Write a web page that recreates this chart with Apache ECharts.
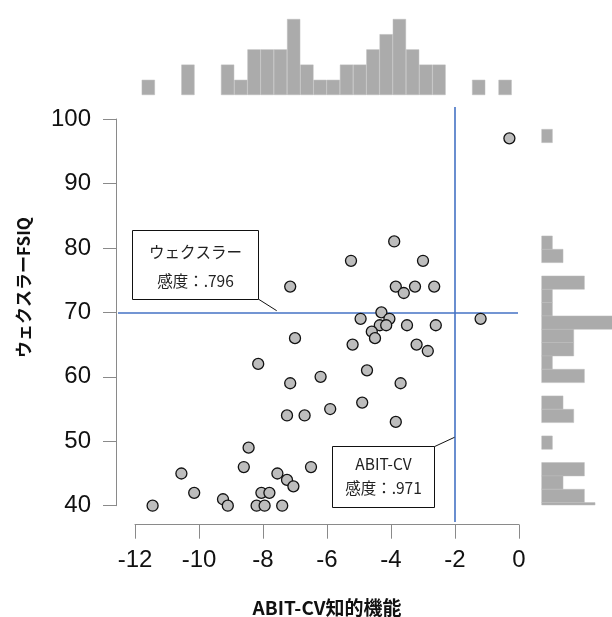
<!DOCTYPE html>
<html>
<head>
<meta charset="utf-8">
<script src="https://cdn.jsdelivr.net/npm/echarts@6/dist/echarts.min.js"></script>
<style>html,body{margin:0;padding:0;background:#fff;}#c{width:612px;height:617px;}</style>
</head>
<body>
<div id="c"></div>
<script>
// ---- data ----
const xTicks = [-12, -10, -8, -6, -4, -2, 0];
const yTicks = [40, 50, 60, 70, 80, 90, 100];
const xVals = [-0.3, -3.9, -5.25, -3.0, -3.85, -3.6, -3.25, -2.65, -7.15, -4.3,
  -4.95, -4.05, -1.2, -4.35, -4.15, -3.5, -2.6, -4.6, -4.5, -7.0,
  -5.2, -3.2, -2.85, -8.15, -4.75, -6.2, -7.15, -3.7, -4.9, -5.9,
  -7.25, -6.7, -3.85, -8.45, -8.6, -6.5, -10.55, -7.55, -7.25, -7.05,
  -10.15, -8.05, -7.8, -9.25, -11.45, -9.1, -8.2, -7.95, -7.4];
const yVals = [97, 81, 78, 78, 74, 73, 74, 74, 74, 70,
  69, 69, 69, 68, 68, 68, 68, 67, 66, 66,
  65, 65, 64, 62, 61, 60, 59, 59, 56, 55,
  54, 54, 53, 49, 46, 46, 45, 45, 44, 43,
  42, 42, 42, 41, 40, 40, 40, 40, 40];
const refX = -2;
const refY = 70;
const topHistCounts = [1,0,0,2,0,0,2,1,3,3,3,5,2,1,1,2,2,3,4,5,3,2,2,0,0,1,0,1];
const rightHistCounts = [1,0,0,0,0,0,0,0,1,2,0,4,1,1,7,3,3,1,4,0,2,3,0,1,0,4,2,4,5];
const xTitle = 'ABIT-CV知的機能';
const yTitle = 'ウェクスラーFSIQ';
const note1 = ['ウェクスラー', '感度：.796'];
const note2 = ['ABIT-CV', '感度：.971'];

// ---- layout ----
const chart = echarts.init(document.getElementById('c'), null, {renderer: 'canvas'});
const axisGray = '#8a8a8a';
const histGray = '#ababab';
const histEdge = '#bdbdbd';
const blue = '#4472c4';
const tickFont = {fontFamily: 'Liberation Sans', fontSize: 24, color: '#111'};
const titleFont = {fontFamily: 'Noto Sans CJK JP', fontSize: 19, fontWeight: 'bold', color: '#111'};
const noteFont = 'Noto Sans CJK JP';

// plot region in data units (for reference lines)
const plotX = [-12.53, -0.03];
const plotY = [37.47, 101.86];

const pts = xVals.map((x, i) => [x, yVals[i]]);

const option = {
  animation: false,
  backgroundColor: '#fff',
  grid: [
    {left: 135, top: 119, width: 384, height: 386.7, outerBoundsMode: 'none', containLabel: false},     // axes
    {left: 118, top: 107, width: 400, height: 415, outerBoundsMode: 'none', containLabel: false},       // plot region
    {left: 141.7, top: 19, width: 370, height: 76, outerBoundsMode: 'none', containLabel: false},       // top hist
    {left: 541.7, top: 129.3, width: 74.7, height: 375.7, outerBoundsMode: 'none', containLabel: false} // right hist
  ],
  xAxis: [
    {gridIndex: 0, type: 'value', min: xTicks[0], max: xTicks[xTicks.length - 1], interval: 2,
     offset: 19, position: 'bottom',
     axisLine: {show: true, onZero: false, lineStyle: {color: axisGray, width: 1}},
     axisTick: {show: true, length: 14, lineStyle: {color: axisGray, width: 1}},
     axisLabel: Object.assign({margin: 24}, tickFont),
     splitLine: {show: false},
     name: xTitle, nameLocation: 'middle', nameGap: 74, nameTextStyle: titleFont},
    {gridIndex: 1, type: 'value', min: plotX[0], max: plotX[1], show: false},
    {gridIndex: 2, type: 'category', data: topHistCounts.map((_, i) => i), show: false},
    {gridIndex: 3, type: 'value', min: 0, max: 7, show: false}
  ],
  yAxis: [
    {gridIndex: 0, type: 'value', min: yTicks[0], max: yTicks[yTicks.length - 1], interval: 10,
     offset: 19, position: 'left',
     axisLine: {show: true, onZero: false, lineStyle: {color: axisGray, width: 1}},
     axisTick: {show: true, length: 13, lineStyle: {color: axisGray, width: 1}},
     axisLabel: Object.assign({margin: 25}, tickFont),
     splitLine: {show: false}},
    {gridIndex: 1, type: 'value', min: plotY[0], max: plotY[1], show: false},
    {gridIndex: 2, type: 'value', min: 0, max: 5, show: false},
    {gridIndex: 3, type: 'value', min: 0, max: 28.18, inverse: true, show: false}
  ],
  series: [
    {type: 'line', xAxisIndex: 1, yAxisIndex: 1, data: [], silent: true,
     markLine: {silent: true, symbol: 'none', label: {show: false},
       lineStyle: {color: blue, width: 1.6, type: 'solid'},
       data: [{xAxis: refX}, {yAxis: refY}]}},
    {type: 'scatter', xAxisIndex: 0, yAxisIndex: 0, data: pts, clip: false,
     symbol: 'circle', symbolSize: 11, z: 5,
     itemStyle: {color: '#bdbdbd', borderColor: '#111', borderWidth: 1.3, opacity: 1}},
    {type: 'bar', xAxisIndex: 2, yAxisIndex: 2, data: topHistCounts.map(c => c > 0 ? c : '-'),
     barCategoryGap: '0%', barGap: '0%',
     itemStyle: {color: histGray, borderColor: histEdge, borderWidth: 0.5}},
    {type: 'custom', xAxisIndex: 3, yAxisIndex: 3, clip: false,
     encode: {x: 0, y: 1},
     data: rightHistCounts.map((c, k) => [c, k]),
     renderItem: function (params, api) {
       const c = api.value(0), k = api.value(1);
       if (!c) return null;
       const p0 = api.coord([0, k]);
       const p1 = api.coord([c, k + 1]);
       const cs = params.coordSys;
       const rect = {x: p0[0], y: Math.min(p0[1], p1[1]), width: p1[0] - p0[0], height: Math.abs(p1[1] - p0[1])};
       const clipped = echarts.graphic.clipRectByRect(rect, {x: cs.x, y: cs.y, width: 1000, height: cs.height});
       if (!clipped) return null;
       return {type: 'rect', shape: clipped, style: {fill: histGray, stroke: histEdge, lineWidth: 0.5}};
     }}
  ],
  graphic: [
    {type: 'text', x: 23.5, y: 287.5, rotation: Math.PI / 2, z: 12,
     style: {text: yTitle, fontFamily: titleFont.fontFamily, fontSize: 17, fontWeight: 'bold', fill: '#111', align: 'center', verticalAlign: 'middle'}},
    {type: 'line', shape: {x1: 258.7, y1: 299.3, x2: 276.7, y2: 310.7}, style: {stroke: '#111', lineWidth: 1}, z: 10},
    {type: 'rect', shape: {x: 132.5, y: 230.5, width: 126, height: 69}, style: {fill: '#fff', stroke: '#111', lineWidth: 1}, z: 11},
    {type: 'text', x: 195.5, y: 252, z: 12, style: {text: note1[0], fontFamily: noteFont, fontSize: 15.5, fill: '#222', align: 'center', verticalAlign: 'middle'}},
    {type: 'text', x: 195.5, y: 281, z: 12, style: {text: note1[1], fontFamily: noteFont, fontSize: 15.5, fill: '#222', align: 'center', verticalAlign: 'middle'}},
    {type: 'line', shape: {x1: 434.3, y1: 446.7, x2: 454.5, y2: 437.3}, style: {stroke: '#111', lineWidth: 1}, z: 10},
    {type: 'rect', shape: {x: 332.5, y: 446.5, width: 102, height: 61}, style: {fill: '#fff', stroke: '#111', lineWidth: 1}, z: 11},
    {type: 'text', x: 383.5, y: 464.5, z: 12, style: {text: note2[0], fontFamily: noteFont, fontSize: 15.5, fill: '#222', align: 'center', verticalAlign: 'middle'}},
    {type: 'text', x: 383.5, y: 488.5, z: 12, style: {text: note2[1], fontFamily: noteFont, fontSize: 15.5, fill: '#222', align: 'center', verticalAlign: 'middle'}}
  ]
};
chart.setOption(option);
</script>
</body>
</html>
